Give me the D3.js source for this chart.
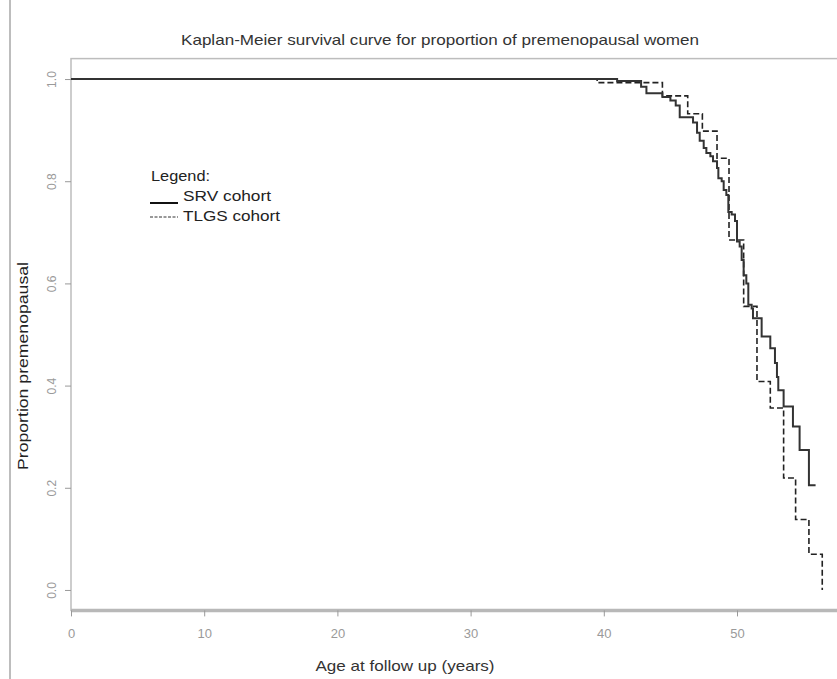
<!DOCTYPE html>
<html>
<head>
  <meta charset="utf-8">
  <title>Kaplan-Meier</title>
  <script src="https://d3js.org/d3.v7.min.js"></script>
  <style>
    body { margin: 0; background: #fff; }
    svg { display: block; font-family: "Liberation Sans", Arial, sans-serif; }
  </style>
</head>
<body>
<div id="chart"></div>
<script>
// SRV cohort: event ages and survival after each step
var srvTimes = [41.0, 42.8, 43.2, 44.4, 45.0, 45.4, 45.7, 46.7, 47.0, 47.2, 47.5, 47.7, 48.0, 48.2, 48.5, 48.6,
                48.85, 49.0, 49.2, 49.35, 49.6, 49.85, 50.0, 50.2, 50.35, 50.5, 50.7, 50.85, 51.1, 51.2,
                51.85, 52.5, 52.85, 53.0, 53.1, 53.5, 54.2, 54.7, 55.4];
var srvSurv  = [0.996, 0.985, 0.972, 0.965, 0.958, 0.948, 0.925, 0.915, 0.895, 0.879, 0.865, 0.855, 0.849, 0.839, 0.826, 0.806,
                0.800, 0.783, 0.773, 0.740, 0.735, 0.722, 0.682, 0.672, 0.646, 0.616, 0.600, 0.558, 0.551, 0.532,
                0.496, 0.473, 0.444, 0.417, 0.391, 0.359, 0.320, 0.274, 0.205];
var srvEnd = 55.9;

// TLGS cohort
var tlgsTimes = [39.5, 44.4, 46.3, 47.4, 48.5, 49.4, 50.5, 51.5, 52.5, 53.5, 54.4, 55.4, 56.4];
var tlgsSurv  = [0.993, 0.967, 0.932, 0.898, 0.845, 0.685, 0.555, 0.408, 0.356, 0.219, 0.138, 0.070, 0.0];
var tlgsEnd = 56.4;

var xTicks = [0, 10, 20, 30, 40, 50];
var yTicks = [0.0, 0.2, 0.4, 0.6, 0.8, 1.0];

var width = 837, height = 679;

var svg = d3.select('#chart').append('svg')
  .attr('width', width)
  .attr('height', height);

// scales (R style: x starts at the box, y padded 4%)
var x = d3.scaleLinear().domain([0, 60]).range([71, 870.2]);
var y = d3.scaleLinear().domain([-0.04, 1.04]).range([610.4, 58.6]);

// outer frame line on the left
svg.append('line')
  .attr('x1', 10).attr('x2', 10).attr('y1', 0).attr('y2', height)
  .attr('stroke', '#bdbdbd').attr('stroke-width', 2);

// plot box
svg.append('rect')
  .attr('x', x(0)).attr('y', y(1.04))
  .attr('width', x(60) - x(0)).attr('height', y(-0.04) - y(1.04))
  .attr('fill', 'none').attr('stroke', '#bdbdbd').attr('stroke-width', 1.5);
svg.append('line')
  .attr('x1', x(0)).attr('x2', width).attr('y1', y(-0.04)).attr('y2', y(-0.04))
  .attr('stroke', '#b8b8b8').attr('stroke-width', 3.5);

// axes
var xAxis = svg.append('g')
  .attr('transform', 'translate(0,' + y(-0.04) + ')')
  .call(d3.axisBottom(x).tickValues(xTicks).tickSize(6).tickFormat(d3.format('d')));
xAxis.select('.domain').remove();
xAxis.selectAll('line').attr('stroke', '#999');
xAxis.selectAll('text')
  .attr('y', 18)
  .attr('fill', '#9a9a9a')
  .style('font-family', '"Liberation Sans Narrow", "Liberation Sans", Arial, sans-serif')
  .style('font-size', '13px');

var yAxis = svg.append('g')
  .attr('transform', 'translate(' + x(0) + ',0)')
  .call(d3.axisLeft(y).tickValues(yTicks).tickSize(6).tickFormat(d3.format('.1f')));
yAxis.select('.domain').remove();
yAxis.selectAll('line').attr('stroke', '#999');
yAxis.selectAll('text')
  .attr('x', 0)
  .attr('y', -15)
  .attr('dy', 0)
  .attr('transform', 'rotate(-90)')
  .style('text-anchor', 'middle')
  .attr('fill', '#9a9a9a')
  .style('font-family', '"Liberation Sans Narrow", "Liberation Sans", Arial, sans-serif')
  .style('font-size', '12px');

// step curves
function steps(times, surv, end) {
  var pts = [[0, 1]];
  times.forEach(function (t, i) { pts.push([t, surv[i]]); });
  pts.push([end, surv[surv.length - 1]]);
  return pts;
}

var line = d3.line()
  .x(function (d) { return x(d[0]); })
  .y(function (d) { return y(d[1]); })
  .curve(d3.curveStepAfter);

svg.append('path')
  .datum(steps(tlgsTimes, tlgsSurv, tlgsEnd))
  .attr('d', line)
  .attr('fill', 'none')
  .attr('stroke', '#222')
  .attr('stroke-width', 1.6)
  .attr('stroke-dasharray', '6,3');

svg.append('path')
  .datum(steps(srvTimes, srvSurv, srvEnd))
  .attr('d', line)
  .attr('fill', 'none')
  .attr('stroke', '#333')
  .attr('stroke-width', 2);

// title and axis labels
svg.append('text')
  .attr('x', 440).attr('y', 45)
  .attr('text-anchor', 'middle')
  .attr('fill', '#333')
  .attr('textLength', 518).attr('lengthAdjust', 'spacingAndGlyphs')
  .style('font-size', '15px')
  .text('Kaplan-Meier survival curve for proportion of premenopausal women');

svg.append('text')
  .attr('x', 405).attr('y', 671)
  .attr('text-anchor', 'middle')
  .attr('fill', '#333')
  .attr('textLength', 179).attr('lengthAdjust', 'spacingAndGlyphs')
  .style('font-size', '15px')
  .text('Age at follow up (years)');

svg.append('text')
  .attr('transform', 'translate(28,366) rotate(-90)')
  .attr('text-anchor', 'middle')
  .attr('fill', '#222')
  .attr('textLength', 208).attr('lengthAdjust', 'spacingAndGlyphs')
  .style('font-size', '15px')
  .text('Proportion premenopausal');

// legend
var legend = svg.append('g');
legend.append('text')
  .attr('x', 151).attr('y', 181)
  .attr('fill', '#222')
  .attr('textLength', 59).attr('lengthAdjust', 'spacingAndGlyphs')
  .style('font-size', '15px')
  .text('Legend:');
legend.append('line')
  .attr('x1', 150).attr('x2', 178).attr('y1', 203).attr('y2', 203)
  .attr('stroke', '#111').attr('stroke-width', 2);
legend.append('text')
  .attr('x', 183).attr('y', 201)
  .attr('fill', '#222')
  .attr('textLength', 88).attr('lengthAdjust', 'spacingAndGlyphs')
  .style('font-size', '15px')
  .text('SRV cohort');
legend.append('line')
  .attr('x1', 150).attr('x2', 178).attr('y1', 217).attr('y2', 217)
  .attr('stroke', '#333').attr('stroke-width', 1)
  .attr('stroke-dasharray', '3,1.5');
legend.append('text')
  .attr('x', 183).attr('y', 221)
  .attr('fill', '#222')
  .attr('textLength', 97).attr('lengthAdjust', 'spacingAndGlyphs')
  .style('font-size', '15px')
  .text('TLGS cohort');
</script>
</body>
</html>
